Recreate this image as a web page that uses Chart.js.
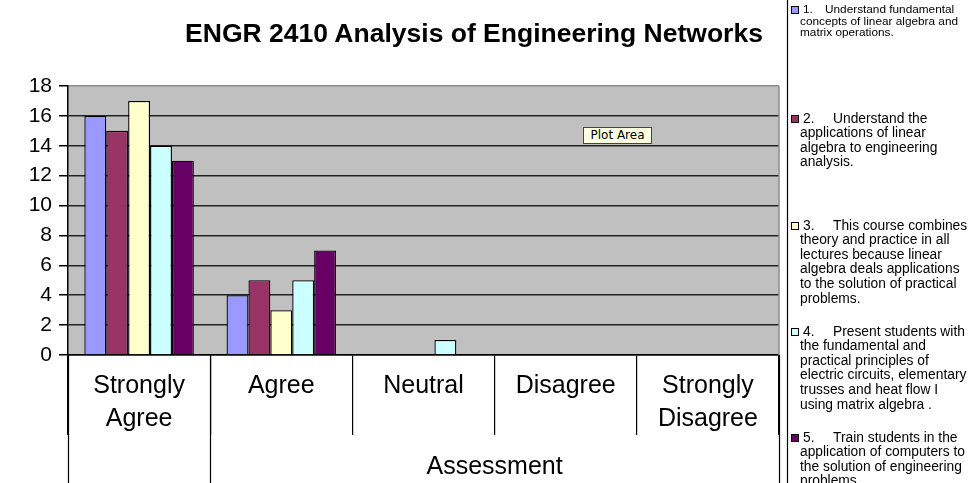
<!DOCTYPE html>
<html>
<head>
<meta charset="utf-8">
<script src="https://cdn.jsdelivr.net/npm/chart.js@4"></script>
<style>
  html, body { margin: 0; padding: 0; background: #fff; overflow: hidden; }
  #wrap { position: relative; width: 973px; height: 483px; overflow: hidden; font-family: "Liberation Sans", Arial, sans-serif; }
  #chartCanvas { position: absolute; left: 0; top: 0; }
  #title { position: absolute; left: 0; width: 948px; top: 17px; text-align: center; font-weight: bold; font-size: 26.5px; line-height: 32px; color: #000; }
  #plotTip { position: absolute; left: 583px; top: 127px; width: 67px; height: 15px; background: #ffffe1; border: 1px solid #444; font: 12px "DejaVu Sans", sans-serif; line-height: 15px; text-align: center; color: #000; }
  .legItem { position: absolute; left: 800px; color: #000; white-space: nowrap; }
  .legItem .mark { position: absolute; left: -9px; width: 6px; height: 6px; border: 1px solid #000; }
  .legItem .num { display: inline-block; margin-left: 3px; }
</style>
</head>
<body>
<div id="wrap">
  <canvas id="chartCanvas" width="973" height="483"></canvas>
  <div id="title">ENGR 2410 Analysis of Engineering Networks</div>
  <div id="legend"></div>
  <div id="plotTip">Plot Area</div>
</div>
<script>
// responses per category, one list per course outcome
const categories = [["Strongly", "Agree"], "Agree", "Neutral", "Disagree", ["Strongly", "Disagree"]];
const groupLabel = "Assessment";

const outcome1 = [16, 4, 0, 0, 0];
const outcome2 = [15, 5, 0, 0, 0];
const outcome3 = [17, 3, 0, 0, 0];
const outcome4 = [14, 5, 1, 0, 0];
const outcome5 = [13, 7, 0, 0, 0];

const yMin = 0;
const yMax = 18;
const yStep = 2;

const seriesLabels = [
  ["1.", "Understand fundamental", "concepts of linear algebra and", "matrix operations."],
  ["2.", "Understand the", "applications of linear", "algebra to engineering", "analysis."],
  ["3.", "This course combines", "theory and practice in all", "lectures because linear", "algebra deals applications", "to the solution of practical", "problems."],
  ["4.", "Present students with", "the fundamental and", "practical principles of", "electric circuits, elementary", "trusses and heat flow I", "using matrix algebra ."],
  ["5.", "Train students in the", "application of computers to", "the solution of engineering", "problems."]
];

const seriesColors = ["#9999ff", "#993366", "#ffffcc", "#ccffff", "#660066"];
const seriesData = [outcome1, outcome2, outcome3, outcome4, outcome5];

const FONT = '"Liberation Sans", Arial, sans-serif';

// legend on the right, drawn as html text
const legendTops = [10, 119, 226, 332, 438];
const legendEl = document.getElementById("legend");
seriesLabels.forEach((lines, i) => {
  const small = i === 0;
  const size = small ? 11.8 : 13.8;
  const lh = small ? 11.5 : 14.6;
  const item = document.createElement("div");
  item.className = "legItem";
  item.style.top = (legendTops[i] - lh / 2) + "px";
  item.style.fontSize = size + "px";
  item.style.lineHeight = lh + "px";
  const mark = document.createElement("span");
  mark.className = "mark";
  mark.style.background = seriesColors[i];
  mark.style.top = (lh / 2 - 4) + "px";
  item.appendChild(mark);
  const first = document.createElement("div");
  const num = document.createElement("span");
  num.className = "num";
  num.style.width = small ? "22px" : "30px";
  num.textContent = lines[0];
  first.appendChild(num);
  first.appendChild(document.createTextNode(lines[1]));
  item.appendChild(first);
  lines.slice(2).forEach(t => {
    const d = document.createElement("div");
    d.textContent = t;
    item.appendChild(d);
  });
  legendEl.appendChild(item);
});

const plotFrame = {
  id: "plotFrame",
  beforeDraw(chart) {
    const a = chart.chartArea;
    const ctx = chart.ctx;
    ctx.save();
    ctx.fillStyle = "#c0c0c0";
    ctx.fillRect(a.left, a.top, a.right - a.left, a.bottom - a.top);
    ctx.restore();
  },
  afterDraw(chart) {
    const a = chart.chartArea;
    const x = chart.scales.x;
    const ctx = chart.ctx;
    const w = (x.right - x.left) / categories.length;
    const H = chart.height;
    ctx.save();
    // right edge of plot area
    ctx.strokeStyle = "#8c8c8c";
    ctx.lineWidth = 1.5;
    ctx.beginPath();
    ctx.moveTo(a.right, a.top);
    ctx.lineTo(a.right, a.bottom);
    ctx.stroke();
    // outer level separators run to the bottom
    ctx.strokeStyle = "#000";
    ctx.lineWidth = 1.2;
    [0, 1, categories.length].forEach(i => {
      const px = Math.round(x.left + i * w) + 0.5;
      ctx.beginPath();
      ctx.moveTo(px, a.bottom);
      ctx.lineTo(px, H);
      ctx.stroke();
    });
    // outer group label
    ctx.fillStyle = "#000";
    ctx.font = "25px " + FONT;
    ctx.textAlign = "center";
    ctx.textBaseline = "middle";
    ctx.fillText(groupLabel, (x.left + w + x.right) / 2, 467);
    // legend border
    ctx.strokeStyle = "#000";
    ctx.lineWidth = 1.2;
    ctx.beginPath();
    ctx.moveTo(787.5, 0);
    ctx.lineTo(787.5, H);
    ctx.stroke();
    ctx.restore();
  }
};

new Chart(document.getElementById("chartCanvas"), {
  type: "bar",
  data: {
    labels: categories,
    datasets: seriesData.map((d, i) => ({
      label: seriesLabels[i].join(" "),
      data: d,
      backgroundColor: seriesColors[i],
      borderColor: "#000",
      borderWidth: 1.3,
      categoryPercentage: 0.77,
      barPercentage: 1.0
    }))
  },
  options: {
    responsive: false,
    animation: false,
    events: [],
    layout: { padding: { left: 0, top: 86, right: 194, bottom: 0 } },
    plugins: {
      legend: { display: false },
      title: { display: false },
      tooltip: { enabled: false }
    },
    scales: {
      x: {
        grid: { offset: true, drawOnChartArea: false, drawTicks: true, tickLength: 80, color: "#000", lineWidth: 1.2 },
        border: { color: "#000", width: 1.5 },
        ticks: {
          color: "#000",
          maxRotation: 0,
          autoSkip: false,
          padding: -65,
          font: { family: FONT, size: 25, lineHeight: 1.32 }
        },
        afterFit(s) { s.height = 128; }
      },
      y: {
        min: yMin,
        max: yMax,
        ticks: { stepSize: yStep, color: "#000", padding: 7, font: { family: FONT, size: 21 } },
        grid: {
          color: ctx => ctx.tick && ctx.tick.value === yMax ? "#8c8c8c" : "#222",
          tickColor: "#000",
          lineWidth: 1.5,
          tickLength: 9
        },
        border: { color: "#000", width: 1.5 },
        afterFit(s) { s.width = 68; }
      }
    }
  },
  plugins: [plotFrame]
});
</script>
</body>
</html>
